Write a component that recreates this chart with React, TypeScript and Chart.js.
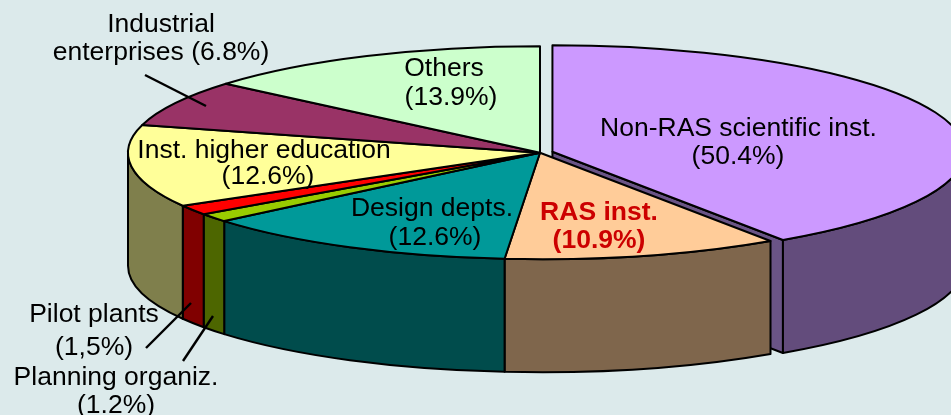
import React, { useEffect, useRef } from "react";
import { Chart, registerables } from "chart.js";

Chart.register(...registerables);

// Slice names, slice shares as drawn, and the printed captions of the original.
const categories = [
  "Non-RAS scientific inst.",
  "RAS inst.",
  "Design depts.",
  "Planning organiz.",
  "Pilot plants",
  "Inst. higher education",
  "Industrial enterprises",
  "Others",
];
const sliceShares = [40.55, 10.82, 12.53, 1.3, 1.5, 12.5, 7.0, 13.8];
const topColors = ["#CC99FF", "#FFCC99", "#009999", "#99CC00", "#FF0000", "#FFFF99", "#993366", "#CCFFCC"];
const wallColors = ["#634C7C", "#7F664C", "#004C4C", "#4D6600", "#800000", "#7F7F4C", "#4C1933", "#667F66"];
const explode = [52, 0, 0, 0, 0, 0, 0, 0];

const BG = "#DCEAEB";
const CUT_WALL = "#6A5486";
const CENTER_Y = 152.7;
const RADIUS = 412;
const SQUASH = 106.5 / 412;
const DEPTH = 113;

const captions: { lines: string[]; xs: number[]; ys: number[]; bold?: boolean; color?: string }[] = [
  { lines: ["Industrial", "enterprises (6.8%)"], xs: [161, 161], ys: [32, 60] },
  { lines: ["Others", "(13.9%)"], xs: [444, 451], ys: [76, 105] },
  { lines: ["Non-RAS scientific inst.", "(50.4%)"], xs: [738.5, 738], ys: [136, 164] },
  { lines: ["Inst. higher education", "(12.6%)"], xs: [264, 268], ys: [158, 184] },
  { lines: ["Design depts.", "(12.6%)"], xs: [432, 435], ys: [216, 245] },
  { lines: ["RAS inst.", "(10.9%)"], xs: [599, 599], ys: [220, 248], bold: true, color: "#CC0000" },
  { lines: ["Pilot plants", "(1,5%)"], xs: [94, 94], ys: [322, 355] },
  { lines: ["Planning organiz.", "(1.2%)"], xs: [116, 116], ys: [385, 413] },
];
const leaders = [
  [206, 106, 145, 75],
  [191, 303, 146, 348],
  [213, 316, 183, 361],
];

function geom(el: any) {
  const mid = (el.startAngle + el.endAngle) / 2;
  const off = (el.options.offset || 0) / 4;
  return {
    cx: el.x + Math.cos(mid) * off,
    cy: el.y + Math.sin(mid) * off * SQUASH,
    r: el.$r,
    a0: el.startAngle,
    a1: el.endAngle,
  };
}

const pie3d = {
  id: "pie3d",
  afterDatasetsUpdate(chart: any) {
    // Chart.js grows an exploded arc a little; keep it on the same radius as the others.
    chart.getDatasetMeta(0).data.forEach((el: any) => {
      const off = (el.options.offset || 0) / 4;
      const fix = 1 - Math.sin(Math.min(Math.PI, el.circumference || 0));
      el.$r = el.outerRadius;
      el.outerRadius = el.outerRadius - off * fix;
    });
  },
  beforeDatasetsDraw(chart: any) {
    const ctx = chart.ctx;
    const arcs = chart.getDatasetMeta(0).data;
    ctx.save();
    ctx.lineJoin = "round";
    ctx.strokeStyle = "#000";
    ctx.lineWidth = 2;
    // cut face of the exploded slice, seen through the gap
    const g0 = geom(arcs[0]);
    const ex = g0.cx + Math.cos(g0.a1) * g0.r;
    const ey = g0.cy + Math.sin(g0.a1) * g0.r * SQUASH;
    ctx.beginPath();
    ctx.moveTo(g0.cx, g0.cy);
    ctx.lineTo(ex, ey);
    ctx.lineTo(ex, ey + DEPTH);
    ctx.lineTo(g0.cx, g0.cy + DEPTH);
    ctx.closePath();
    ctx.fillStyle = CUT_WALL;
    ctx.fill();
    ctx.stroke();
    // outer walls, front half only
    arcs.forEach((el: any, i: number) => {
      const g = geom(el);
      const a = Math.max(g.a0, 0);
      const b = Math.min(g.a1, Math.PI);
      if (b <= a) return;
      ctx.beginPath();
      ctx.ellipse(g.cx, g.cy, g.r, g.r * SQUASH, 0, a, b);
      ctx.ellipse(g.cx, g.cy + DEPTH, g.r, g.r * SQUASH, 0, b, a, true);
      ctx.closePath();
      ctx.fillStyle = wallColors[i];
      ctx.fill();
      ctx.stroke();
    });
    ctx.restore();
    // flatten the library's circular slices into the tilted top face
    ctx.save();
    ctx.translate(0, CENTER_Y);
    ctx.scale(1, SQUASH);
    ctx.translate(0, -CENTER_Y);
  },
  afterDatasetsDraw(chart: any) {
    const ctx = chart.ctx;
    ctx.restore();
    const arcs = chart.getDatasetMeta(0).data;
    ctx.save();
    ctx.lineJoin = "round";
    ctx.strokeStyle = "#000";
    ctx.lineWidth = 2;
    arcs.forEach((el: any) => {
      const g = geom(el);
      ctx.beginPath();
      ctx.moveTo(g.cx, g.cy);
      ctx.ellipse(g.cx, g.cy, g.r, g.r * SQUASH, 0, g.a0, g.a1);
      ctx.closePath();
      ctx.fillStyle = el.options.backgroundColor;
      ctx.fill();
      ctx.stroke();
    });
    ctx.lineWidth = 2.4;
    leaders.forEach(([x1, y1, x2, y2]) => {
      ctx.beginPath();
      ctx.moveTo(x1, y1);
      ctx.lineTo(x2, y2);
      ctx.stroke();
    });
    ctx.textAlign = "center";
    ctx.textBaseline = "alphabetic";
    captions.forEach((c) => {
      ctx.font = `${c.bold ? "bold " : ""}26.5px "Liberation Sans"`;
      ctx.fillStyle = c.color || "#000";
      c.lines.forEach((t, i) => ctx.fillText(t, c.xs[i], c.ys[i]));
    });
    ctx.restore();
  },
};

export default function App() {
  const ref = useRef<HTMLCanvasElement>(null);
  useEffect(() => {
    const chart = new Chart(ref.current!, {
      type: "pie",
      data: {
        labels: categories,
        datasets: [
          {
            data: sliceShares,
            backgroundColor: topColors,
            borderWidth: 0,
            offset: explode,
            clip: false,
          } as any,
        ],
      },
      options: {
        responsive: false,
        animation: false,
        events: [],
        radius: RADIUS,
        layout: { padding: { left: 129, right: 0, top: 0, bottom: 415 - 2 * CENTER_Y } },
        plugins: { legend: { display: false }, tooltip: { enabled: false } },
      } as any,
      plugins: [pie3d as any],
    });
    return () => chart.destroy();
  }, []);
  return (
    <div style={{ position: "fixed", left: 0, top: 0, width: 951, height: 415, background: BG, overflow: "hidden" }}>
      <canvas ref={ref} width={951} height={415} style={{ display: "block" }} />
    </div>
  );
}
